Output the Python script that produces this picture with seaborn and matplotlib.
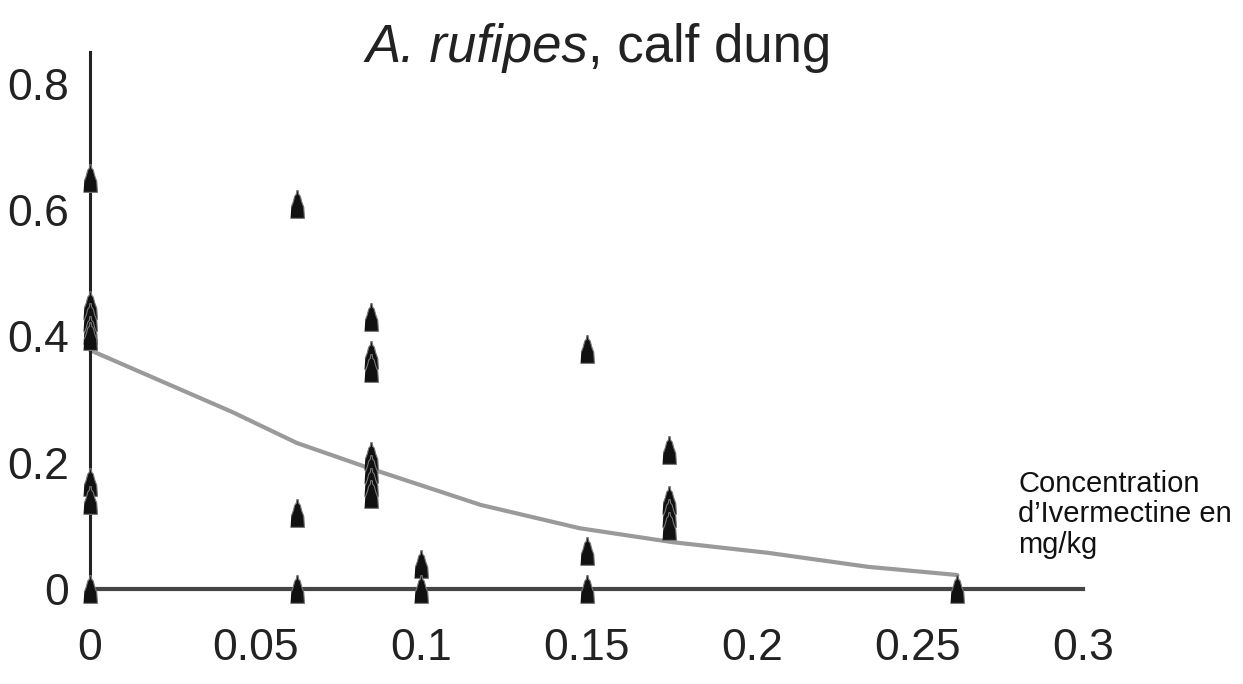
import numpy as np
import pandas as pd
import matplotlib
matplotlib.use('Agg')
import matplotlib.pyplot as plt
import seaborn as sns

# survival / dung data
conc = [0, 0, 0, 0, 0, 0, 0, 0,
        0.0625, 0.0625, 0.0625,
        0.085, 0.085, 0.085, 0.085, 0.085, 0.085, 0.085,
        0.1, 0.1,
        0.15, 0.15, 0.15,
        0.175, 0.175, 0.175, 0.175,
        0.262]
resp = [0.65, 0.45, 0.43, 0.41, 0.40, 0.17, 0.14, 0.0,
        0.61, 0.12, 0.0,
        0.43, 0.37, 0.35, 0.21, 0.19, 0.17, 0.15,
        0.04, 0.0,
        0.38, 0.06, 0.0,
        0.22, 0.14, 0.12, 0.10,
        0.0]

# fitted curve, points
fit_x = [0, 0.043, 0.0625, 0.085, 0.118, 0.148, 0.176, 0.205, 0.235, 0.262]
fit_y = [0.378, 0.28, 0.231, 0.19, 0.133, 0.096, 0.074, 0.057, 0.035, 0.022]

xticks = [0, 0.05, 0.1, 0.15, 0.2, 0.25, 0.3]
xlabels = ['0', '0.05', '0.1', '0.15', '0.2', '0.25', '0.3']
yticks = [0, 0.2, 0.4, 0.6, 0.8]
ylabels = ['0', '0.2', '0.4', '0.6', '0.8']

sns.set_style('white')
fam = ['Liberation Sans', 'DejaVu Sans']
plt.rcParams['font.family'] = fam

fig = plt.figure(figsize=(12.43, 6.84), dpi=100)
ax = fig.add_axes([0.0724, 0.139, 0.799, 0.785])

pts = pd.DataFrame({'conc': conc, 'resp': resp})
fit = pd.DataFrame({'x': fit_x, 'y': fit_y})

sns.lineplot(data=fit, x='x', y='y', ax=ax, color='#9a9a9a', linewidth=3,
             zorder=2, clip_on=False)

tower = [(-0.5, -1), (0.5, -1), (0.45, -0.2), (0.3, 0.2), (0.2, 0.6),
         (0.08, 0.75), (0.05, 1), (-0.05, 1), (-0.08, 0.75), (-0.2, 0.6),
         (-0.3, 0.2), (-0.45, -0.2)]
sns.scatterplot(data=pts, x='conc', y='resp', ax=ax, marker=tower, s=400,
                color='#111111', edgecolor='#777777', linewidth=0.8,
                zorder=3, clip_on=False)

ax.set_xlim(0, 0.3)
ax.set_ylim(0, 0.85)
ax.set_xticks(xticks)
ax.set_xticklabels(xlabels)
ax.set_yticks(yticks)
ax.set_yticklabels(ylabels)
ax.set_xlabel('')
ax.set_ylabel('')

for s in ['top', 'right']:
    ax.spines[s].set_visible(False)
ax.spines['left'].set_color('#222222')
ax.spines['left'].set_linewidth(2.2)
ax.spines['bottom'].set_color('#444444')
ax.spines['bottom'].set_linewidth(3)

ax.tick_params(axis='x', direction='out', length=11, width=2, color='#333333',
               pad=17, labelsize=32, labelcolor='#222222')
ax.tick_params(axis='y', direction='out', length=5, width=3, color='#bbbbbb',
               pad=10, labelsize=32, labelcolor='#222222')

t1 = fig.text(0.294, 0.909, 'A. rufipes', fontsize=38, style='italic',
              color='#222222', va='baseline')
ax.annotate(', calf dung', xy=(1, 0), xycoords=t1, va='bottom', ha='left',
            fontsize=38, color='#222222')

fig.text(0.819, 0.183, 'Concentration\nd\u2019Ivermectine en\nmg/kg', fontsize=21,
         color='#111111', linespacing=1.12, va='bottom', ha='left')

fig.savefig('out.png', dpi=100)
